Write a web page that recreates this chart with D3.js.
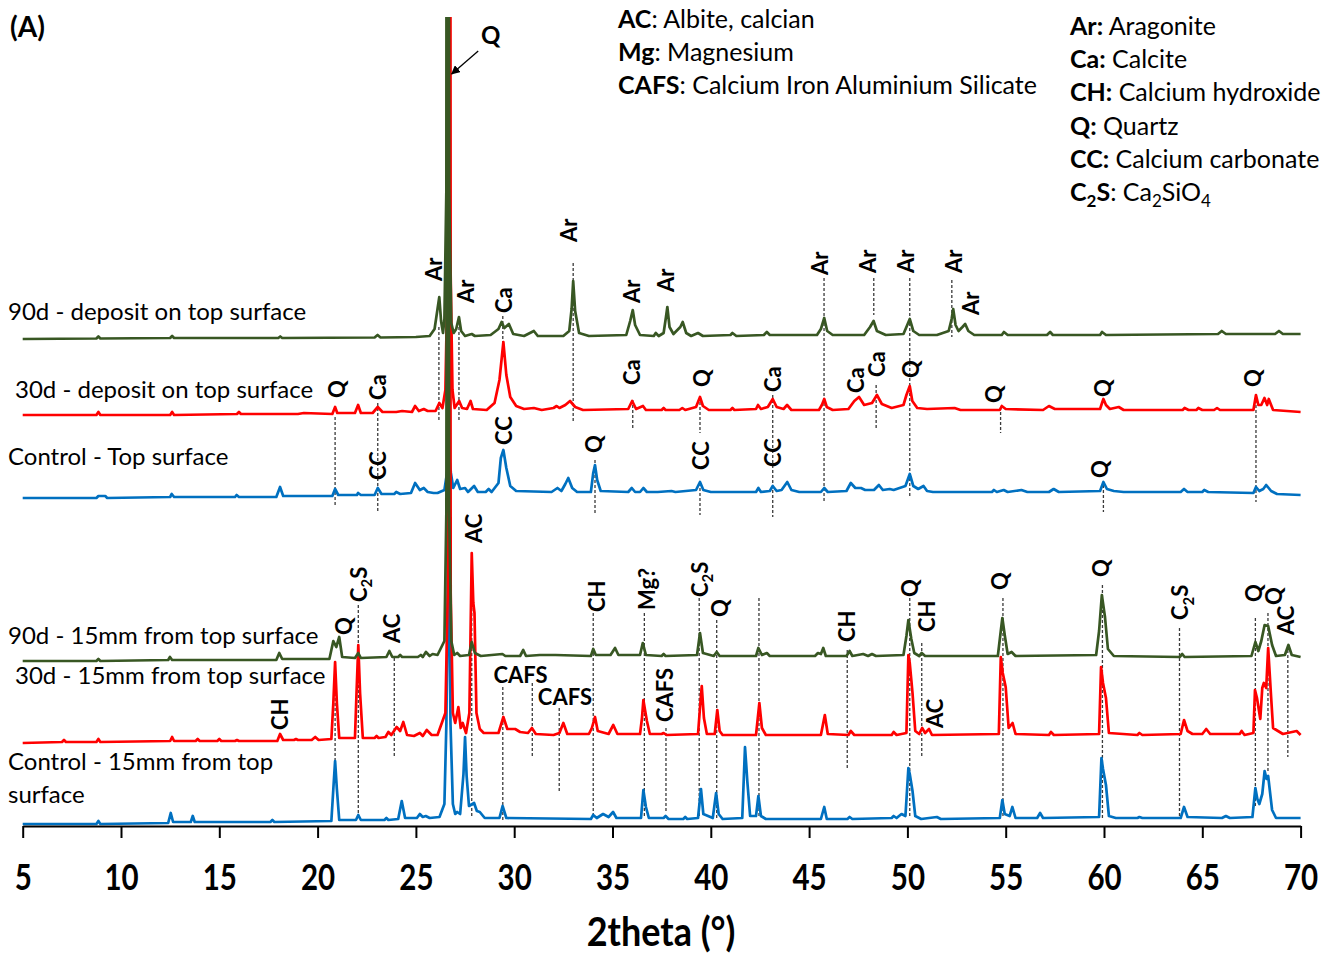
<!DOCTYPE html>
<html>
<head>
<meta charset="utf-8">
<script src="https://cdn.jsdelivr.net/npm/d3@7"></script>
<style>
body { margin: 0; background: #fff; }
text { font-family: Lato, "Open Sans", sans-serif; fill: #000; }
</style>
</head>
<body>
<svg id="chart" width="1337" height="954"></svg>
<script>
// x axis ticks (2theta, degrees)
const xTicks = [5, 10, 15, 20, 25, 30, 35, 40, 45, 50, 55, 60, 65, 70];

// sample names, top to bottom
const seriesNames = [
    ["90d - deposit on top surface"],
    ["30d - deposit on top surface"],
    ["Control - Top surface"],
    ["90d - 15mm from top surface"],
    ["30d - 15mm from top surface"],
    ["Control - 15mm from top", "surface"]
];

// stacking offset of each pattern (intensity units)
const seriesOffsets = [487, 411, 328, 165, 83, 2];

// patterns: [2theta, intensity above own baseline]
const t90Top = [[5,0],[8.75,0.5],[8.85,2.5],[8.95,0.5],[12.5,1],[12.6,3],[12.7,1],[18.0,1],[18.1,2.5],[18.2,1],[22.9,1.5],[23.05,4],[23.2,1.5],[25.0,2],[25.7,3],[25.95,10],[26.1,30],[26.19,42],[26.28,18],[26.38,6],[26.45,20],[26.55,150],[26.62,1600],[26.69,150],[26.8,16],[26.92,6],[27.05,10],[27.19,22],[27.3,8],[27.5,3],[27.84,5],[28.0,3],[28.8,4],[29.2,10],[29.36,17],[29.5,11],[29.73,15],[29.95,5],[30.5,3],[31.0,8],[31.2,3],[32.5,3],[32.8,8],[32.92,30],[33.0,58],[33.1,28],[33.3,6],[33.8,3],[35.7,4],[35.9,18],[36.03,29],[36.15,14],[36.4,4],[37.1,3],[37.2,6],[37.35,3],[37.6,6],[37.72,22],[37.79,32],[37.9,12],[38.1,5],[38.45,12],[38.57,17],[38.75,6],[39.0,3],[39.35,6],[39.6,3],[41.0,4],[41.1,6],[41.3,3],[42.7,4],[42.85,7],[43.0,4],[45.4,4],[45.6,10],[45.77,21],[45.92,8],[46.2,4],[47.8,4],[48.1,12],[48.28,18],[48.45,8],[48.9,4],[49.8,5],[49.95,12],[50.12,20],[50.3,8],[50.6,4],[51.5,4],[52.1,8],[52.25,20],[52.33,30],[52.45,14],[52.6,8],[52.8,12],[52.94,15],[53.1,8],[53.4,4],[54.8,4],[54.91,7],[55.1,4],[57.1,4],[57.26,7],[57.4,4],[59.8,4],[59.9,7],[60.1,4],[65.8,5],[65.99,8],[66.2,5],[68.7,5],[68.9,8],[69.1,5],[70,5]];

const t30Top = [[5,0],[8.75,0],[8.85,3],[8.95,0],[12.5,0],[12.6,3],[12.7,0],[15.9,1],[16.0,3],[16.1,1],[19.0,1],[19.3,2],[20.75,1],[20.89,8],[21.0,2],[21.9,2],[22.06,10],[22.2,2],[22.8,2],[23.06,8],[23.3,3],[24.0,3],[24.3,4],[24.8,3],[24.96,9],[25.15,4],[25.4,6],[25.6,4],[26.0,4],[26.19,12],[26.35,7],[26.5,25],[26.62,150],[26.69,1600],[26.76,150],[26.86,25],[26.97,7],[27.2,14],[27.35,7],[27.6,6],[27.78,14],[27.9,6],[28.6,5],[29.0,12],[29.25,35],[29.45,73],[29.6,40],[29.8,18],[30.1,9],[30.5,6],[31.0,7],[31.4,5],[32.0,7],[32.16,9],[32.3,7],[32.6,10],[32.84,14],[33.1,8],[33.5,5],[35.8,6],[36.0,14],[36.2,6],[36.55,9],[36.7,5],[37.5,5],[37.6,7],[37.7,5],[38.4,5],[38.55,7],[38.7,5],[39.25,8],[39.45,18],[39.6,9],[39.9,5],[41.0,5],[41.1,7],[41.2,5],[42.3,6],[42.4,10],[42.55,6],[42.9,8],[43.15,16],[43.35,8],[43.7,6],[43.88,10],[44.1,5],[45.5,5],[45.65,10],[45.77,16],[45.9,8],[46.2,5],[47.0,6],[47.3,14],[47.54,18],[47.8,10],[48.2,12],[48.45,20],[48.7,11],[49.2,7],[49.8,10],[49.95,20],[50.12,29],[50.25,14],[50.5,7],[51.0,6],[52.4,7],[52.7,5],[54.7,5],[54.8,9],[55.0,6],[56.9,5],[57.2,9],[57.5,6],[59.8,6],[59.9,12],[59.97,16],[60.1,10],[60.3,6],[60.75,8],[61.0,5],[64.0,5],[64.1,7],[64.3,5],[64.7,5],[64.8,7],[65.0,5],[65.6,5],[65.75,7],[65.9,5],[67.6,5],[67.73,20],[67.85,10],[68.0,10],[68.16,17],[68.3,10],[68.38,16],[68.6,5],[70,3]];

const tCtrlTop = [[5,0],[8.75,0],[8.85,2],[9.2,2],[9.3,0],[12.5,1],[12.58,4],[12.7,1],[15.8,1],[15.88,3],[16.0,1],[17.9,1],[18.09,11],[18.25,2],[20.75,2],[20.89,9],[21.05,3],[22.0,3],[22.06,5],[22.2,3],[22.9,3],[23.06,10],[23.25,4],[23.9,4],[24.0,6],[24.2,4],[24.75,5],[24.96,15],[25.2,8],[25.4,10],[25.6,6],[25.9,5],[26.1,5],[26.45,8],[26.62,30],[26.7,40],[26.78,25],[26.9,10],[27.1,18],[27.25,9],[27.5,10],[27.65,6],[27.96,12],[28.15,6],[28.55,6],[28.7,9],[28.85,6],[29.2,15],[29.32,40],[29.45,48],[29.6,30],[29.8,12],[30.1,7],[31.9,6],[32.2,10],[32.4,7],[32.6,14],[32.75,20],[32.95,10],[33.2,6],[33.9,6],[34.02,25],[34.11,33],[34.22,18],[34.4,7],[35.8,6],[35.98,10],[36.15,6],[36.4,6],[36.57,10],[36.75,6],[37.3,6],[38.0,7],[38.2,6],[39.25,8],[39.45,16],[39.62,8],[40.0,6],[41.5,6],[42.3,6],[42.42,10],[42.55,6],[43.0,7],[43.15,12],[43.35,7],[43.6,8],[43.89,16],[44.1,8],[44.5,6],[45.6,6],[45.77,10],[45.95,6],[46.9,7],[47.12,15],[47.35,10],[47.64,10],[47.85,8],[48.3,8],[48.55,13],[48.75,8],[49.1,9],[49.3,8],[49.9,12],[50.12,24],[50.3,12],[50.55,9],[50.82,12],[51.0,7],[51.3,6],[54.3,6],[54.4,8],[54.55,6],[54.9,8],[55.1,6],[55.8,8],[56.1,6],[57.2,6],[57.44,9],[57.7,6],[59.8,7],[59.97,16],[60.15,9],[60.5,7],[61.0,6],[63.9,6],[64.07,9],[64.25,6],[65.0,6],[65.1,8],[65.3,6],[67.6,5],[67.73,11],[67.9,7],[68.1,9],[68.25,13],[68.5,7],[68.8,4],[70,3]];

const t90Mid = [[5,0],[8.75,0],[8.85,2],[8.95,0],[12.4,1],[12.49,4],[12.6,1],[17.9,1],[18.05,8],[18.2,2],[20.6,2],[20.8,20],[20.95,14],[21.1,24],[21.25,4],[21.9,3],[22.07,8],[22.2,3],[23.5,4],[23.65,10],[23.8,4],[24.1,4],[24.2,6],[24.3,4],[25.1,4],[25.25,6],[25.35,4],[25.51,9],[25.7,5],[25.85,7],[26.1,6],[26.45,20],[26.55,150],[26.62,1600],[26.69,150],[26.8,20],[26.95,6],[27.1,8],[27.25,5],[27.7,6],[27.84,19],[28.0,8],[28.3,5],[29.4,7],[29.55,5],[30.3,5],[30.46,11],[30.6,5],[31.3,6],[32.1,6],[33.9,5],[34.02,12],[34.15,6],[34.9,6],[35.13,13],[35.3,6],[36.4,6],[36.54,18],[36.7,6],[37.5,5],[37.6,7],[37.7,5],[39.3,6],[39.45,28],[39.6,8],[40.15,5],[40.3,9],[40.45,5],[42.3,5],[42.42,13],[42.6,6],[42.85,8],[43.0,5],[45.3,5],[45.45,8],[45.6,7],[45.72,13],[45.85,5],[46.9,5],[47.06,10],[47.2,5],[47.75,7],[48.0,5],[48.2,7],[48.4,5],[49.8,6],[49.95,25],[50.05,41],[50.2,22],[50.35,8],[50.6,5],[50.73,8],[50.9,5],[54.6,5],[54.75,30],[54.83,43],[54.95,26],[55.1,7],[55.3,9],[55.5,5],[59.6,6],[59.75,30],[59.89,66],[60.05,44],[60.2,12],[60.5,5],[63.85,4],[63.98,7],[64.1,4],[67.5,5],[67.7,19],[67.85,10],[68.0,20],[68.17,36],[68.35,35],[68.55,16],[68.75,5],[69.2,6],[69.38,16],[69.55,6],[70,4]];

const t30Mid = [[5,0],[7.0,1],[7.1,3],[7.2,1],[8.75,1],[8.85,4],[8.95,1],[12.5,2],[12.6,6],[12.7,2],[13.8,2],[13.9,4],[14.0,2],[14.9,2],[15.0,4],[15.1,2],[15.8,2],[15.9,3],[16.0,2],[17.95,2],[18.09,9],[18.25,3],[18.8,3],[18.9,4],[19.0,3],[19.7,3],[19.88,6],[20.05,3],[20.7,4],[20.8,40],[20.89,81],[20.98,40],[21.1,5],[21.9,5],[21.98,50],[22.07,98],[22.16,50],[22.3,5],[22.9,5],[23.0,7],[23.1,5],[23.45,6],[23.6,11],[23.75,8],[24.02,16],[24.2,12],[24.36,21],[24.55,8],[24.9,7],[25.2,10],[25.35,7],[25.55,13],[25.8,8],[26.1,8],[26.5,30],[26.62,150],[26.7,1600],[26.77,150],[26.88,30],[27.0,20],[27.16,36],[27.28,15],[27.38,20],[27.55,10],[27.72,30],[27.84,190],[27.92,140],[27.98,130],[28.08,30],[28.25,14],[28.45,10],[29.2,10],[29.45,26],[29.65,14],[30.05,14],[30.3,11],[30.7,10],[30.9,15],[31.1,9],[32.0,8],[32.3,10],[32.5,20],[32.7,9],[33.8,9],[33.95,15],[34.11,26],[34.25,12],[34.8,9],[35.04,18],[35.25,9],[36.4,9],[36.5,25],[36.57,43],[36.68,30],[36.75,22],[36.9,9],[37.5,9],[37.6,10],[37.75,8],[39.35,9],[39.45,35],[39.54,57],[39.65,25],[39.8,9],[40.2,9],[40.33,33],[40.45,12],[40.6,8],[42.3,8],[42.47,40],[42.6,15],[42.8,8],[45.6,8],[45.8,28],[45.95,9],[47.0,8],[47.12,12],[47.3,8],[49.2,8],[49.3,11],[49.45,8],[49.95,10],[50.05,88],[50.12,80],[50.2,63],[50.26,50],[50.4,12],[50.6,9],[50.75,15],[50.9,10],[51.1,14],[51.25,8],[54.65,9],[54.75,86],[54.85,70],[55.0,56],[55.15,15],[55.35,20],[55.5,9],[57.2,8],[57.3,11],[57.45,8],[59.75,9],[59.85,76],[59.95,60],[60.1,45],[60.25,10],[61.7,8],[61.8,10],[61.95,8],[63.9,9],[64.07,23],[64.25,12],[64.5,9],[65.0,9],[65.2,14],[65.4,9],[66.9,9],[67.0,12],[67.15,8],[67.6,10],[67.68,53],[67.78,45],[67.95,24],[68.05,55],[68.13,60],[68.25,55],[68.35,95],[68.5,46],[68.6,15],[68.85,12],[69.1,9],[69.8,12],[70,8]];

const tCtrlMid = [[5,0],[8.75,0],[8.85,3],[8.95,0],[12.4,1],[12.53,11],[12.65,2],[13.55,2],[13.65,8],[13.75,2],[17.6,2],[17.7,4],[17.8,2],[20.7,3],[20.8,35],[20.89,63],[20.98,35],[21.1,4],[21.95,4],[22.07,9],[22.2,4],[23.4,4],[23.5,6],[23.6,4],[24.1,5],[24.28,23],[24.45,6],[25.05,6],[25.2,10],[25.35,7],[25.5,8],[25.7,6],[26.2,7],[26.45,20],[26.55,100],[26.66,300],[26.76,100],[26.88,20],[27.0,10],[27.1,12],[27.25,10],[27.42,50],[27.5,87],[27.58,48],[27.7,18],[27.96,21],[28.1,13],[28.25,12],[28.5,6],[29.25,6],[29.41,18],[29.6,6],[33.9,5],[34.02,9],[34.2,6],[34.52,10],[34.8,7],[35.03,12],[35.2,6],[36.45,6],[36.57,34],[36.7,17],[36.85,6],[37.6,6],[37.7,8],[37.85,5],[38.6,5],[38.7,7],[38.8,5],[39.35,6],[39.5,35],[39.62,10],[40.1,6],[40.27,31],[40.4,10],[40.6,5],[41.6,6],[41.74,77],[41.8,60],[41.86,42],[42.0,8],[42.3,8],[42.42,28],[42.55,8],[42.8,5],[45.6,5],[45.77,17],[45.9,5],[46.95,5],[47.06,7],[47.2,5],[49.2,6],[49.3,8],[49.45,6],[49.7,10],[49.9,8],[50.05,56],[50.12,50],[50.26,33],[50.4,8],[50.7,5],[51.5,7],[51.7,5],[54.7,6],[54.83,24],[54.95,10],[55.2,8],[55.34,17],[55.5,6],[56.6,6],[56.75,11],[56.9,6],[59.75,7],[59.87,66],[59.95,55],[60.1,39],[60.25,8],[60.6,6],[61.7,6],[61.8,7],[61.95,6],[63.9,6],[64.07,17],[64.25,7],[66.0,6],[66.2,8],[66.4,6],[67.55,7],[67.7,36],[67.8,25],[67.9,20],[68.05,30],[68.17,53],[68.27,45],[68.35,48],[68.55,14],[68.75,6],[70,6]];

const patterns = [t90Top, t30Top, tCtrlTop, t90Mid, t30Mid, tCtrlMid];

// phase labels (rotated): [text, 2theta, intensity at start of text]
const peakLabels = [
    ["Ar", 25.9, 545], ["Ar", 27.57, 523], ["Ca", 29.46, 513], ["Ar", 32.79, 584], ["Ar", 36.02, 523],
    ["Ar", 37.72, 534], ["Ar", 45.55, 551], ["Ar", 48.02, 553], ["Ar", 49.93, 553], ["Ar", 52.37, 553],
    ["Ar", 53.26, 511],
    ["Q", 21.01, 428], ["Ca", 23.1, 426], ["Ca", 36.02, 441], ["Q", 39.58, 439], ["Ca", 43.19, 434],
    ["Ca", 47.41, 433], ["Ca", 48.45, 449], ["Q", 50.19, 448], ["Q", 54.43, 423], ["Q", 59.95, 429],
    ["Q", 67.6, 439],
    ["CC", 23.1, 346], ["CC", 29.46, 381], ["Q", 34.06, 373], ["CC", 39.5, 356], ["CC", 43.18, 359],
    ["Q", 59.78, 348],
    ["Q", 21.34, 191], ["C2S", 22.1, 224], ["AC", 23.81, 183], ["CH", 18.09, 96], ["AC", 27.96, 283],
    ["CH", 34.24, 214], ["Mg?", 36.78, 216], ["CAFS", 37.67, 104], ["C2S", 39.45, 229], ["Q", 40.47, 209],
    ["CH", 46.93, 184], ["Q", 50.16, 229], ["CH", 51.02, 194], ["AC", 51.39, 98], ["Q", 54.69, 236],
    ["Q", 59.83, 249], ["C2S", 63.89, 206], ["Q", 67.63, 224], ["Q", 68.65, 221], ["AC", 69.28, 191]
];

// labels written horizontally: [text, 2theta of centre, intensity of baseline]
const flatLabels = [["CAFS", 30.32, 143], ["CAFS", 32.58, 121]];

// dotted reference lines: [2theta, top, bottom]
const refLines = [
    [26.17, 499, 406], [27.19, 499, 406], [29.42, 510, 484], [33.0, 563, 404], [36.03, 426, 396],
    [39.45, 429, 393], [39.45, 343, 311], [43.15, 431, 309], [45.76, 548, 323], [48.29, 548, 511],
    [48.41, 441, 396], [50.12, 548, 329], [52.26, 546, 489], [54.74, 419, 393], [59.97, 341, 314],
    [67.73, 431, 324], [34.11, 366, 311], [20.89, 409, 319], [23.06, 423, 313],
    [20.89, 163, 59], [22.07, 221, 13], [23.9, 168, 69], [27.84, 273, 9], [29.42, 139, 6],
    [30.92, 143, 68], [32.29, 118, 34], [34.02, 213, 9], [36.62, 213, 9], [37.72, 98, 13],
    [39.41, 228, 9], [40.3, 206, 6], [42.45, 228, 9], [46.94, 176, 56], [50.12, 228, 9],
    [50.73, 183, 68], [54.86, 228, 9], [59.92, 241, 6], [63.84, 198, 9], [67.7, 208, 19],
    [68.34, 213, 53], [69.35, 181, 69]
];

// legend of phase abbreviations
const legendLeft = [["AC", ": Albite, calcian"], ["Mg", ": Magnesium"], ["CAFS", ": Calcium Iron Aluminium Silicate"]];
const legendRight = [["Ar:", " Aragonite"], ["Ca:", " Calcite"], ["CH:", " Calcium hydroxide"], ["Q:", " Quartz"], ["CC:", " Calcium carbonate"], ["C2S", ": Ca2SiO4"]];

// ---- styles and layout ----
const colors = ["#385723", "#ff0000", "#0070c0", "#385723", "#ff0000", "#0070c0"];
const drawOrder = [5, 2, 4, 1, 3, 0];
const nameLayout = [[8, 320], [15, 398], [8, 465], [8, 644], [15, 684], [8, 770]];

const svg = d3.select("#chart");

const x = d3.scaleLinear().domain([5, 70]).range([22.7, 1300.6]);
const y = d3.scaleLinear().domain([0, 808]).range([826, 18]);

svg.append("defs").append("clipPath").attr("id", "plotClip")
    .append("rect").attr("x", 0).attr("y", 17).attr("width", 1337).attr("height", 812);

svg.select("defs").append("marker")
    .attr("id", "arrow")
    .attr("viewBox", "0 0 10 10")
    .attr("refX", 9).attr("refY", 5)
    .attr("markerWidth", 7).attr("markerHeight", 7)
    .attr("orient", "auto")
    .append("path").attr("d", "M0,0 L10,5 L0,10 z").attr("fill", "#000");

// writes text where digits become subscripts (C2S, Ca2SiO4)
function addChem(sel, str, weight, size, state) {
    str.split(/(\d)/).filter(s => s.length > 0).forEach(part => {
        const t = sel.append("tspan").text(part).attr("font-weight", weight);
        if (/^\d$/.test(part)) {
            t.attr("font-size", size * 0.68).attr("dy", size * 0.25);
            state.down = true;
        } else {
            t.attr("font-size", size);
            if (state.down) { t.attr("dy", -size * 0.25); state.down = false; }
        }
    });
}

// dotted lines first, under the patterns
svg.append("g")
    .selectAll("line")
    .data(refLines)
    .enter()
    .append("line")
    .attr("x1", d => x(d[0]))
    .attr("x2", d => x(d[0]))
    .attr("y1", d => y(d[1]))
    .attr("y2", d => y(d[2]))
    .attr("stroke", "#3a3a3a")
    .attr("stroke-width", 1.3)
    .attr("stroke-dasharray", "3,2");

// patterns
const plot = svg.append("g").attr("clip-path", "url(#plotClip)");
drawOrder.forEach(i => {
    plot.append("path")
        .datum(patterns[i])
        .attr("fill", "none")
        .attr("stroke", colors[i])
        .attr("stroke-width", 2.7)
        .attr("stroke-linejoin", "round")
        .attr("d", d3.line()
            .x(d => x(d[0]))
            .y(d => y(d[1] + seriesOffsets[i]))
        );
});

// rotated phase labels
peakLabels.forEach(d => {
    const t = svg.append("text")
        .attr("transform", `translate(${x(d[1])},${y(d[2])}) rotate(-90)`)
        .attr("dy", "0.36em")
        .attr("font-size", 22);
    addChem(t, d[0], "bold", 22, {down: false});
});

flatLabels.forEach(d => {
    svg.append("text")
        .attr("x", x(d[1]))
        .attr("y", y(d[2]))
        .attr("text-anchor", "middle")
        .attr("font-size", 22)
        .attr("font-weight", "bold")
        .text(d[0]);
});

// sample names
seriesNames.forEach((lines, i) => {
    lines.forEach((line, j) => {
        svg.append("text")
            .attr("x", nameLayout[i][0])
            .attr("y", nameLayout[i][1] + j * 33)
            .attr("font-size", 24)
            .text(line);
    });
});

// arrow pointing at the main quartz peak
svg.append("line")
    .attr("x1", x(28.17)).attr("y1", y(775))
    .attr("x2", x(26.82)).attr("y2", y(752))
    .attr("stroke", "#000")
    .attr("stroke-width", 1.3)
    .attr("marker-end", "url(#arrow)");
svg.append("text")
    .attr("x", x(28.8)).attr("y", y(782))
    .attr("text-anchor", "middle")
    .attr("font-size", 24)
    .attr("font-weight", "bold")
    .text("Q");

// legends
legendLeft.forEach((d, i) => {
    const t = svg.append("text").attr("x", 618).attr("y", 28 + i * 33.2);
    const st = {down: false};
    addChem(t, d[0], "bold", 25, st);
    addChem(t, d[1], "normal", 25, st);
});
legendRight.forEach((d, i) => {
    const t = svg.append("text").attr("x", 1070).attr("y", 35 + i * 33.2);
    const st = {down: false};
    addChem(t, d[0], "bold", 25, st);
    addChem(t, d[1], "normal", 25, st);
});

svg.append("text")
    .attr("x", 10).attr("y", 37)
    .attr("font-size", 28)
    .attr("font-weight", "bold")
    .text("(A)");

// x axis
const xAxis = d3.axisBottom(x)
    .tickValues(xTicks)
    .tickSize(12)
    .tickSizeOuter(0)
    .tickFormat(d3.format("d"));

svg.append("g")
    .attr("transform", "translate(0,826)")
    .call(xAxis)
    .call(g => g.select(".domain").attr("stroke", "#000").attr("stroke-width", 2.2))
    .call(g => g.selectAll(".tick line").attr("stroke", "#000").attr("stroke-width", 2))
    .call(g => g.selectAll(".tick text")
        .attr("y", 64)
        .attr("dy", 0)
        .attr("fill", "#000")
        .attr("font-size", 36)
        .attr("font-weight", "bold")
        .attr("transform", "scale(0.82,1)"));

svg.append("text")
    .attr("transform", "translate(661,946) scale(0.9,1)")
    .attr("text-anchor", "middle")
    .attr("font-size", 40)
    .attr("font-weight", "bold")
    .text("2theta (°)");
</script>
</body>
</html>
